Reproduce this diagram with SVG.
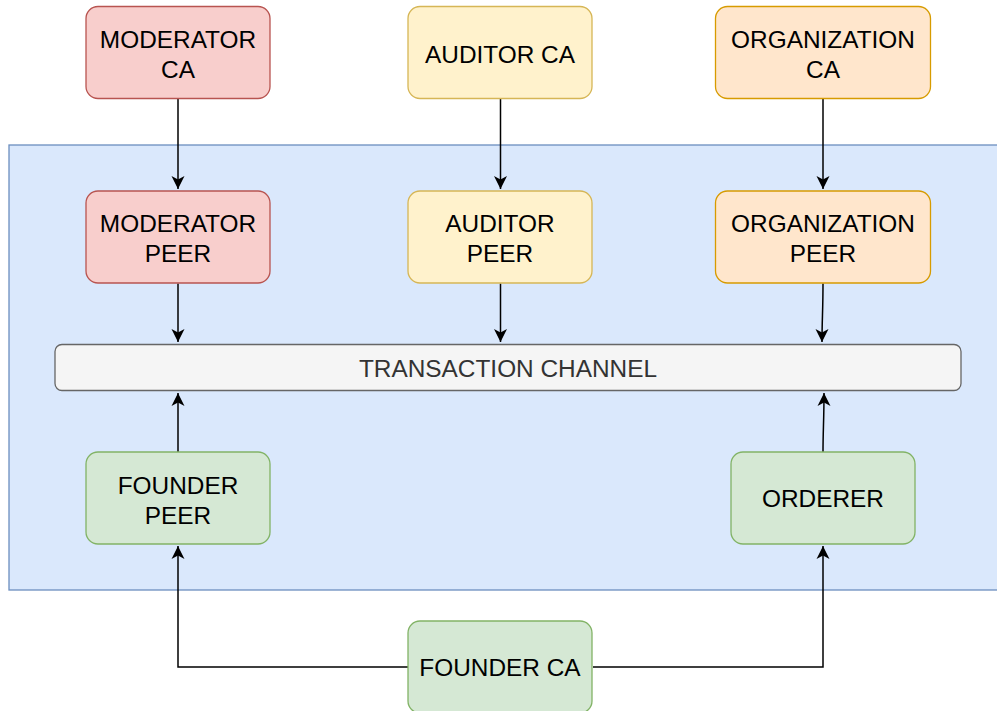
<svg xmlns="http://www.w3.org/2000/svg" width="997" height="711" viewBox="0 0 997 711">
<style>
text{font-family:"Liberation Sans",Arial,sans-serif;font-size:24.4px;fill:#000;text-anchor:middle}
.red{fill:#f8cecc;stroke:#b85450;stroke-width:1.3}
.yel{fill:#fff2cc;stroke:#d6b656;stroke-width:1.3}
.org{fill:#ffe6cc;stroke:#d79b00;stroke-width:1.3}
.grn{fill:#d5e8d4;stroke:#82b366;stroke-width:1.3}
.edge{fill:none;stroke:#000;stroke-width:1.5;marker-end:url(#arr)}
</style>
<defs>
<marker id="arr" markerUnits="userSpaceOnUse" markerWidth="14" markerHeight="16" viewBox="0 0 14 16" refX="13" refY="8" orient="auto">
<path d="M0,1.5 L13,8 L0,14.5 L3.5,8 Z" fill="#000"/>
</marker>
</defs>
<rect x="0" y="0" width="997" height="711" fill="#fff"/>
<g id="container">
<rect x="9" y="145" width="992" height="445" fill="#dae8fc" stroke="#6c8ebf" stroke-width="1.3"/>
</g>
<g id="connectors">
<path class="edge" d="M178,99 V189"/>
<path class="edge" d="M500.5,99 V189"/>
<path class="edge" d="M823,99 V189"/>
<path class="edge" d="M178,283.5 V342"/>
<path class="edge" d="M500.5,283.5 V342"/>
<path class="edge" d="M823,283.5 C823,310 822,320 822,342"/>
<path class="edge" d="M178,452 V393"/>
<path class="edge" d="M823,452 C823,430 824,420 824,393"/>
<path class="edge" d="M408,667 H178 V546"/>
<path class="edge" d="M593,667 H823 V546"/>
</g>
<g id="moderator-ca">
<rect class="red" x="86" y="6.5" width="184" height="92" rx="12"/>
<text x="178" y="48">MODERATOR</text><text x="178" y="78">CA</text>
</g>
<g id="auditor-ca">
<rect class="yel" x="408" y="6.5" width="184" height="92" rx="12"/>
<text x="500" y="62.5">AUDITOR CA</text>
</g>
<g id="organization-ca">
<rect class="org" x="715.5" y="6.5" width="215" height="92" rx="12"/>
<text x="823" y="48">ORGANIZATION</text><text x="823" y="78">CA</text>
</g>
<g id="moderator-peer">
<rect class="red" x="86" y="191" width="184" height="92" rx="12"/>
<text x="178" y="232">MODERATOR</text><text x="178" y="262">PEER</text>
</g>
<g id="auditor-peer">
<rect class="yel" x="408" y="191" width="184" height="92" rx="12"/>
<text x="500" y="232">AUDITOR</text><text x="500" y="262">PEER</text>
</g>
<g id="organization-peer">
<rect class="org" x="715.5" y="191" width="215" height="92" rx="12"/>
<text x="823" y="232">ORGANIZATION</text><text x="823" y="262">PEER</text>
</g>
<g id="transaction-channel">
<rect x="55" y="344.5" width="906" height="46" rx="7" fill="#f5f5f5" stroke="#666666" stroke-width="1.3"/>
<text x="508" y="376.5" style="fill:#333333">TRANSACTION CHANNEL</text>
</g>
<g id="founder-peer">
<rect class="grn" x="86" y="452" width="184" height="92" rx="12"/>
<text x="178" y="494">FOUNDER</text><text x="178" y="523.5">PEER</text>
</g>
<g id="orderer">
<rect class="grn" x="731" y="452" width="184" height="92" rx="12"/>
<text x="823" y="507">ORDERER</text>
</g>
<g id="founder-ca">
<rect class="grn" x="408" y="621" width="184" height="92" rx="12"/>
<text x="500" y="676">FOUNDER CA</text>
</g>
</svg>
